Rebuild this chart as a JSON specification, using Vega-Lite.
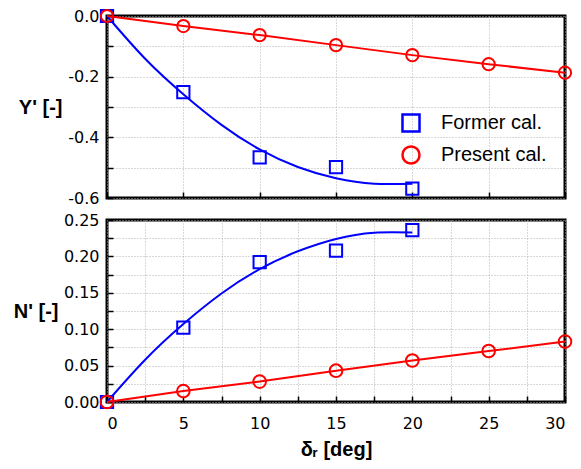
{
  "$schema": "https://vega.github.io/schema/vega-lite/v6.json",
  "autosize": {"type": "pad"},
  "padding": {"left": 11, "top": 4, "right": 6, "bottom": 8},
  "background": "white",
  "bounds": "flush",
  "spacing": 22,
  "config": {
    "view": {"stroke": "black", "strokeWidth": 3},
    "axis": {
      "domain": false,
      "grid": true,
      "gridColor": "#b0b0b0",
      "gridDash": [1, 2],
      "gridWidth": 1,
      "tickColor": "black",
      "tickWidth": 1.5,
      "tickSize": -6,
      "labelFont": "DejaVu Sans",
      "labelFontSize": 16,
      "labelColor": "black",
      "titleFont": "Liberation Sans",
      "titleFontWeight": "bold",
      "titleFontSize": 20,
      "titleColor": "black"
    }
  },
  "datasets": {
    "ptsY": [
      {"series": "Former cal.", "x": 0, "y": 0},
      {"series": "Former cal.", "x": 5, "y": -0.251},
      {"series": "Former cal.", "x": 10, "y": -0.466},
      {"series": "Former cal.", "x": 15, "y": -0.498},
      {"series": "Former cal.", "x": 20, "y": -0.569},
      {"series": "Present cal.", "x": 0, "y": 0},
      {"series": "Present cal.", "x": 5, "y": -0.033},
      {"series": "Present cal.", "x": 10, "y": -0.063},
      {"series": "Present cal.", "x": 15, "y": -0.096},
      {"series": "Present cal.", "x": 20, "y": -0.129},
      {"series": "Present cal.", "x": 25, "y": -0.159},
      {"series": "Present cal.", "x": 30, "y": -0.187}
    ],
    "fitY": [
      {"x": 0, "y": 0},
      {"x": 2.5, "y": -0.141},
      {"x": 5, "y": -0.258},
      {"x": 7.5, "y": -0.359},
      {"x": 10, "y": -0.44},
      {"x": 12.5, "y": -0.498},
      {"x": 15, "y": -0.535},
      {"x": 17.5, "y": -0.553},
      {"x": 20, "y": -0.553}
    ],
    "ptsN": [
      {"series": "Former cal.", "x": 0, "y": 0},
      {"series": "Former cal.", "x": 5, "y": 0.102},
      {"series": "Former cal.", "x": 10, "y": 0.192},
      {"series": "Former cal.", "x": 15, "y": 0.208},
      {"series": "Former cal.", "x": 20, "y": 0.236},
      {"series": "Present cal.", "x": 0, "y": 0},
      {"series": "Present cal.", "x": 5, "y": 0.015},
      {"series": "Present cal.", "x": 10, "y": 0.028},
      {"series": "Present cal.", "x": 15, "y": 0.043},
      {"series": "Present cal.", "x": 20, "y": 0.057},
      {"series": "Present cal.", "x": 25, "y": 0.070},
      {"series": "Present cal.", "x": 30, "y": 0.083}
    ],
    "fitN": [
      {"x": 0, "y": 0},
      {"x": 2.5, "y": 0.058},
      {"x": 5, "y": 0.107},
      {"x": 7.5, "y": 0.149},
      {"x": 10, "y": 0.1825},
      {"x": 12.5, "y": 0.207},
      {"x": 15, "y": 0.224},
      {"x": 17.5, "y": 0.2325},
      {"x": 20, "y": 0.2327}
    ]
  },
  "vconcat": [
    {
      "width": 458,
      "height": 182,
      "encoding": {
        "x": {
          "field": "x", "type": "quantitative",
          "scale": {"domain": [0, 30], "nice": false},
          "axis": {"values": [0, 5, 10, 15, 20, 25, 30], "labels": false, "title": null, "minExtent": 0, "maxExtent": 0}
        },
        "y": {
          "field": "y", "type": "quantitative",
          "scale": {"domain": [-0.6, 0], "nice": false},
          "axis": {
            "values": [-0.6, -0.5, -0.4, -0.3, -0.2, -0.1, 0],
            "labelExpr": "abs(round(datum.value*10)) % 2 == 0 ? replace(format(datum.value, '.1f'), '\u2212', '-') : ''",
            "labelPadding": 14,
            "title": "Y' [-]",
            "titleAngle": 0,
            "titleAlign": "right",
            "titleBaseline": "middle",
            "titleX": -45,
            "titleY": 91
          }
        }
      },
      "layer": [
        {
          "data": {"name": "fitY"},
          "mark": {"type": "line", "color": "#0000ff", "strokeWidth": 2, "interpolate": "natural"}
        },
        {
          "data": {"name": "ptsY"},
          "transform": [{"filter": "datum.series == 'Present cal.'"}],
          "mark": {"type": "line", "color": "#ff0000", "strokeWidth": 2}
        },
        {
          "data": {"name": "ptsY"},
          "mark": {"type": "point", "filled": false, "strokeWidth": 2, "size": 150, "opacity": 1},
          "encoding": {
            "color": {
              "field": "series", "type": "nominal",
              "scale": {"domain": ["Former cal.", "Present cal."], "range": ["#0000ff", "#ff0000"]},
              "legend": {
                "title": null,
                "orient": "none",
                "legendX": 294,
                "legendY": 97,
                "labelFont": "Liberation Sans",
                "labelFontSize": 20,
                "labelColor": "black",
                "labelOffset": 20,
                "symbolSize": 290,
                "symbolStrokeWidth": 2.5,
                "rowPadding": 4,
                "padding": 0
              }
            },
            "shape": {
              "field": "series", "type": "nominal",
              "scale": {"domain": ["Former cal.", "Present cal."], "range": ["square", "circle"]},
              "legend": {
                "title": null,
                "orient": "none",
                "legendX": 294,
                "legendY": 97,
                "labelFont": "Liberation Sans",
                "labelFontSize": 20,
                "labelColor": "black",
                "labelOffset": 20,
                "symbolSize": 290,
                "symbolStrokeWidth": 2.5,
                "rowPadding": 4,
                "padding": 0
              }
            }
          }
        }
      ]
    },
    {
      "width": 458,
      "height": 182,
      "encoding": {
        "x": {
          "field": "x", "type": "quantitative",
          "scale": {"domain": [0, 30], "nice": false},
          "axis": {
            "values": [0, 2.5, 5, 7.5, 10, 12.5, 15, 17.5, 20, 22.5, 25, 27.5, 30],
            "format": "d",
            "labelExpr": "datum.value % 5 == 0 ? datum.label : ''",
            "labelPadding": 19,
            "title": "\u03b4\u1d63 [deg]",
            "titleBaseline": "alphabetic",
            "titleY": 53
          }
        },
        "y": {
          "field": "y", "type": "quantitative",
          "scale": {"domain": [0, 0.25], "nice": false},
          "axis": {
            "values": [0, 0.025, 0.05, 0.075, 0.1, 0.125, 0.15, 0.175, 0.2, 0.225, 0.25],
            "labelExpr": "round(datum.value*1000) % 50 == 0 ? format(datum.value, '.2f') : ''",
            "labelPadding": 14,
            "title": "N' [-]",
            "titleAngle": 0,
            "titleAlign": "right",
            "titleBaseline": "middle",
            "titleX": -49,
            "titleY": 91
          }
        }
      },
      "layer": [
        {
          "data": {"name": "fitN"},
          "mark": {"type": "line", "color": "#0000ff", "strokeWidth": 2, "interpolate": "natural"}
        },
        {
          "data": {"name": "ptsN"},
          "transform": [{"filter": "datum.series == 'Present cal.'"}],
          "mark": {"type": "line", "color": "#ff0000", "strokeWidth": 2}
        },
        {
          "data": {"name": "ptsN"},
          "transform": [{"filter": "datum.series == 'Former cal.'"}],
          "mark": {"type": "point", "shape": "square", "filled": false, "strokeWidth": 2, "size": 150, "color": "#0000ff", "opacity": 1}
        },
        {
          "data": {"name": "ptsN"},
          "transform": [{"filter": "datum.series == 'Present cal.'"}],
          "mark": {"type": "point", "shape": "circle", "filled": false, "strokeWidth": 2, "size": 160, "color": "#ff0000", "opacity": 1}
        }
      ]
    }
  ]
}
